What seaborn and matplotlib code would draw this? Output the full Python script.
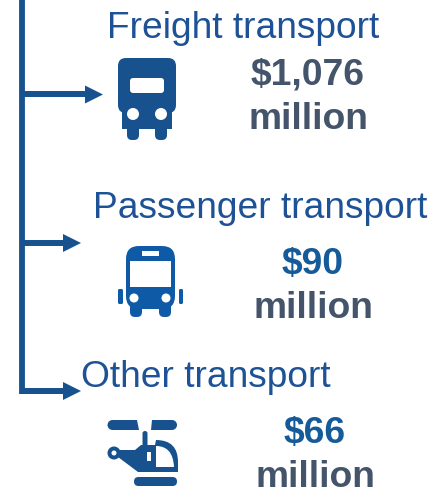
import matplotlib
matplotlib.use("Agg")
import matplotlib.pyplot as plt
import pandas as pd
import seaborn as sns
from matplotlib.patches import Circle, FancyBboxPatch, PathPatch, Polygon, Rectangle
from matplotlib.path import Path

modes = ["Freight transport", "Passenger transport", "Other transport"]
amounts = ["$1,076", "$90", "$66"]
unit = "million"

BLUE = "#17528F"
BUS_BLUE = "#0F5AA6"
TITLE = "#1D5296"
AMOUNT = "#155A99"
GREY = "#44546A"

title_pos = [(243, 38), (260, 218), (206, 387)]
amount_x = [308, 313, 315]
amount_y = [84, 274, 443]
unit_y = [129, 318, 487]
arrow_y = [94.5, 243, 391]
arrow_tip = [103, 81, 81]
arrow_len = 18

sns.set_theme(style="white")
plt.rcParams["font.family"] = ["Liberation Sans", "DejaVu Sans"]

fig, ax = plt.subplots(figsize=(4.34, 4.9), dpi=100)
ax.set_position([0, 0, 1, 1])
ax.set_xlim(0, 434)
ax.set_ylim(490, 0)
ax.axis("off")


def rbox(x0, y0, x1, y1, r, color, z=2):
    ax.add_patch(FancyBboxPatch((x0 + r, y0 + r), x1 - x0 - 2 * r, y1 - y0 - 2 * r,
                                boxstyle=f"round,pad={r},rounding_size={r}",
                                fc=color, ec="none", zorder=z))


def truck():
    rbox(127, 120, 139, 140, 5, BLUE)
    rbox(155, 120, 167, 140, 5, BLUE)
    ax.add_patch(Rectangle((122, 105), 50, 24, fc=BLUE, ec="none", zorder=2))
    rbox(118, 58, 176, 113, 8, BLUE)
    rbox(130, 78, 164, 93, 3, "white", 3)
    ax.add_patch(Circle((133, 114), 6, fc="white", ec="none", zorder=3))
    ax.add_patch(Circle((161, 114), 6, fc="white", ec="none", zorder=3))


def bus():
    rbox(130, 300, 142, 317, 5, BUS_BLUE)
    rbox(159, 300, 171, 317, 5, BUS_BLUE)
    rbox(126, 246, 175, 309, 13, BUS_BLUE)
    ax.add_patch(Rectangle((130, 261), 41, 26, fc="white", ec="none", zorder=3))
    ax.add_patch(Rectangle((142, 251), 17, 5, fc="white", ec="none", zorder=3))
    ax.add_patch(Circle((134, 298), 4.5, fc="white", ec="none", zorder=3))
    ax.add_patch(Circle((166, 298), 4.5, fc="white", ec="none", zorder=3))
    rbox(118, 289, 123, 304, 1.5, BUS_BLUE)
    rbox(179, 289, 183, 304, 1.5, BUS_BLUE)


def helicopter():
    ax.add_patch(Polygon([(112, 420), (137, 420), (139, 430), (112, 430)], fc=BLUE, ec="none", zorder=2))
    ax.add_patch(Circle((112.5, 425), 5, fc=BLUE, ec="none", zorder=2))
    ax.add_patch(Polygon([(152, 420), (172, 420), (172, 430), (151, 430)], fc=BLUE, ec="none", zorder=2))
    ax.add_patch(Circle((172, 425), 5, fc=BLUE, ec="none", zorder=2))
    rbox(134, 477, 177, 486, 4.5, BLUE)
    rbox(142.5, 431, 147.5, 450, 2.4, BLUE)
    verts = [(118, 450), (135, 450), (141, 445), (155, 445), (156, 440), (178, 440), (178, 462),
             (178, 472), (138, 472), (118, 457), (118, 450)]
    codes = [Path.MOVETO, Path.LINETO, Path.LINETO, Path.LINETO, Path.LINETO, Path.CURVE3, Path.CURVE3,
             Path.LINETO, Path.LINETO, Path.LINETO, Path.CLOSEPOLY]
    ax.add_patch(PathPatch(Path(verts, codes), fc=BLUE, ec="none", zorder=2))
    win = [(156, 446), (173, 446), (174, 467), (156, 467), (156, 446)]
    win_codes = [Path.MOVETO, Path.CURVE3, Path.CURVE3, Path.LINETO, Path.CLOSEPOLY]
    ax.add_patch(PathPatch(Path(win, win_codes), fc="white", ec="none", zorder=3))
    ax.add_patch(Rectangle((147, 452), 4, 9, fc="white", ec="none", zorder=3))
    ax.add_patch(Circle((114, 453), 6.5, fc=BLUE, ec="none", zorder=2))
    ax.add_patch(Circle((114, 453), 2.5, fc="white", ec="none", zorder=3))


# tree connector
spine = pd.DataFrame({"x": [21.5, 21.5], "y": [0, 394]})
sns.lineplot(data=spine, x="x", y="y", color=BLUE, linewidth=4.2, estimator=None, sort=False,
             solid_capstyle="butt", ax=ax)

for i, mode in enumerate(modes):
    y = arrow_y[i]
    tip = arrow_tip[i]
    ax.plot([21.5, tip - arrow_len + 1], [y, y], color=BLUE, lw=4.3, solid_capstyle="butt")
    ax.add_patch(Polygon([(tip - arrow_len, y - 9), (tip, y), (tip - arrow_len, y + 9)],
                         fc=BLUE, ec="none", zorder=2))
    ax.text(title_pos[i][0], title_pos[i][1], mode, color=TITLE, fontsize=26.7,
            ha="center", va="baseline")
    ax.text(amount_x[i], amount_y[i], amounts[i], color=AMOUNT if i else GREY, fontsize=26.8,
            fontweight="bold", ha="center", va="baseline")
    ax.text(amount_x[i], unit_y[i], unit, color=GREY, fontsize=26.8,
            fontweight="bold", ha="center", va="baseline")

truck()
bus()
helicopter()

fig.savefig("out.png", dpi=100)
